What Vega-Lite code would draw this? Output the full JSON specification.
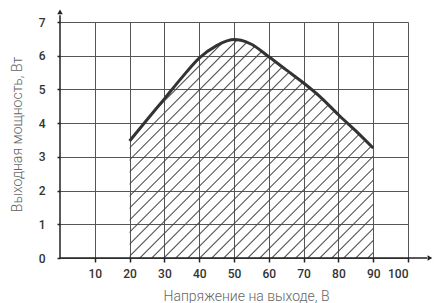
{
  "$schema": "https://vega.github.io/schema/vega-lite/v6.json",
  "width": 348,
  "height": 236,
  "autosize": {"type": "none"},
  "padding": {"left": 60, "top": 22, "right": 26, "bottom": 45},
  "background": "white",
  "config": {"view": {"stroke": null}},
  "datasets": {
    "curve": [
      {"x": 20, "y": 3.47},
      {"x": 25, "y": 4.1},
      {"x": 30, "y": 4.72},
      {"x": 35, "y": 5.35},
      {"x": 40, "y": 5.93},
      {"x": 45, "y": 6.3},
      {"x": 48, "y": 6.44},
      {"x": 50, "y": 6.48},
      {"x": 52, "y": 6.46},
      {"x": 55, "y": 6.34},
      {"x": 60, "y": 5.97},
      {"x": 65, "y": 5.58},
      {"x": 70, "y": 5.19},
      {"x": 75, "y": 4.76},
      {"x": 80, "y": 4.25},
      {"x": 85, "y": 3.77},
      {"x": 90, "y": 3.26}
    ],
    "axislines": [
      {"x": 0, "y": 0, "x2": 105.5, "y2": 0},
      {"x": 0, "y": 0, "x2": 0, "y2": 7.2}
    ],
    "xhead": [{"x": 106.3, "y": 0}],
    "yhead": [{"x": 0, "y": 7.3}]
  },
  "encoding": {
    "x": {
      "field": "x",
      "type": "quantitative",
      "scale": {"domain": [0, 100], "nice": false, "zero": false},
      "axis": {
        "title": "Напряжение на выходе, В",
        "values": [10, 20, 30, 40, 50, 60, 70, 80, 90, 100],
        "grid": true,
        "gridColor": "#555",
        "gridWidth": 1,
        "domain": false,
        "ticks": true,
        "tickColor": "#222",
        "tickSize": 4,
        "tickWidth": 1.5,
        "labelFont": "Roboto",
        "labelFontWeight": 500,
        "labelFontSize": 12,
        "labelColor": "#333",
        "labelPadding": 6,
        "titleFont": "Roboto",
        "titleFontWeight": 300,
        "titleFontSize": 14,
        "titleColor": "#666",
        "titleX": 186,
        "titleY": 42,
        "titleAlign": "center",
        "titleBaseline": "alphabetic"
      }
    },
    "y": {
      "field": "y",
      "type": "quantitative",
      "scale": {"domain": [0, 7], "nice": false, "zero": false},
      "axis": {
        "title": "Выходная мощность, Вт",
        "values": [0, 1, 2, 3, 4, 5, 6, 7],
        "grid": true,
        "gridColor": "#555",
        "gridWidth": 1,
        "domain": false,
        "ticks": true,
        "tickColor": "#222",
        "tickSize": 3,
        "tickWidth": 1.5,
        "labelFont": "Roboto",
        "labelFontWeight": 500,
        "labelFontSize": 12,
        "labelColor": "#333",
        "labelPadding": 12,
        "titleFont": "Roboto",
        "titleFontWeight": 300,
        "titleFontSize": 14,
        "titleColor": "#666",
        "titleX": -43,
        "titleY": 112,
        "titleAngle": 270,
        "titleAlign": "center",
        "titleBaseline": "middle"
      }
    }
  },
  "layer": [
    {
      "data": {"name": "curve"},
      "mark": {
        "type": "area",
        "interpolate": "monotone",
        "fill": {
          "gradient": "linear",
          "x1": 0, "y1": 0, "x2": 1.095, "y2": 0.979,
          "stops": [
            {"offset": 0, "color": "rgba(68,68,68,0)"},
            {"offset": 0.022, "color": "rgba(68,68,68,0)"}, {"offset": 0.025, "color": "#444"}, {"offset": 0.028, "color": "rgba(68,68,68,0)"},
            {"offset": 0.047, "color": "rgba(68,68,68,0)"}, {"offset": 0.05, "color": "#444"}, {"offset": 0.053, "color": "rgba(68,68,68,0)"},
            {"offset": 0.072, "color": "rgba(68,68,68,0)"}, {"offset": 0.075, "color": "#444"}, {"offset": 0.078, "color": "rgba(68,68,68,0)"},
            {"offset": 0.097, "color": "rgba(68,68,68,0)"}, {"offset": 0.1, "color": "#444"}, {"offset": 0.103, "color": "rgba(68,68,68,0)"},
            {"offset": 0.122, "color": "rgba(68,68,68,0)"}, {"offset": 0.125, "color": "#444"}, {"offset": 0.128, "color": "rgba(68,68,68,0)"},
            {"offset": 0.147, "color": "rgba(68,68,68,0)"}, {"offset": 0.15, "color": "#444"}, {"offset": 0.153, "color": "rgba(68,68,68,0)"},
            {"offset": 0.172, "color": "rgba(68,68,68,0)"}, {"offset": 0.175, "color": "#444"}, {"offset": 0.178, "color": "rgba(68,68,68,0)"},
            {"offset": 0.197, "color": "rgba(68,68,68,0)"}, {"offset": 0.2, "color": "#444"}, {"offset": 0.203, "color": "rgba(68,68,68,0)"},
            {"offset": 0.222, "color": "rgba(68,68,68,0)"}, {"offset": 0.225, "color": "#444"}, {"offset": 0.228, "color": "rgba(68,68,68,0)"},
            {"offset": 0.247, "color": "rgba(68,68,68,0)"}, {"offset": 0.25, "color": "#444"}, {"offset": 0.253, "color": "rgba(68,68,68,0)"},
            {"offset": 0.272, "color": "rgba(68,68,68,0)"}, {"offset": 0.275, "color": "#444"}, {"offset": 0.278, "color": "rgba(68,68,68,0)"},
            {"offset": 0.297, "color": "rgba(68,68,68,0)"}, {"offset": 0.3, "color": "#444"}, {"offset": 0.303, "color": "rgba(68,68,68,0)"},
            {"offset": 0.322, "color": "rgba(68,68,68,0)"}, {"offset": 0.325, "color": "#444"}, {"offset": 0.328, "color": "rgba(68,68,68,0)"},
            {"offset": 0.347, "color": "rgba(68,68,68,0)"}, {"offset": 0.35, "color": "#444"}, {"offset": 0.353, "color": "rgba(68,68,68,0)"},
            {"offset": 0.372, "color": "rgba(68,68,68,0)"}, {"offset": 0.375, "color": "#444"}, {"offset": 0.378, "color": "rgba(68,68,68,0)"},
            {"offset": 0.397, "color": "rgba(68,68,68,0)"}, {"offset": 0.4, "color": "#444"}, {"offset": 0.403, "color": "rgba(68,68,68,0)"},
            {"offset": 0.422, "color": "rgba(68,68,68,0)"}, {"offset": 0.425, "color": "#444"}, {"offset": 0.428, "color": "rgba(68,68,68,0)"},
            {"offset": 0.447, "color": "rgba(68,68,68,0)"}, {"offset": 0.45, "color": "#444"}, {"offset": 0.453, "color": "rgba(68,68,68,0)"},
            {"offset": 0.472, "color": "rgba(68,68,68,0)"}, {"offset": 0.475, "color": "#444"}, {"offset": 0.478, "color": "rgba(68,68,68,0)"},
            {"offset": 0.497, "color": "rgba(68,68,68,0)"}, {"offset": 0.5, "color": "#444"}, {"offset": 0.503, "color": "rgba(68,68,68,0)"},
            {"offset": 0.522, "color": "rgba(68,68,68,0)"}, {"offset": 0.525, "color": "#444"}, {"offset": 0.528, "color": "rgba(68,68,68,0)"},
            {"offset": 0.547, "color": "rgba(68,68,68,0)"}, {"offset": 0.55, "color": "#444"}, {"offset": 0.553, "color": "rgba(68,68,68,0)"},
            {"offset": 0.572, "color": "rgba(68,68,68,0)"}, {"offset": 0.575, "color": "#444"}, {"offset": 0.578, "color": "rgba(68,68,68,0)"},
            {"offset": 0.597, "color": "rgba(68,68,68,0)"}, {"offset": 0.6, "color": "#444"}, {"offset": 0.603, "color": "rgba(68,68,68,0)"},
            {"offset": 0.622, "color": "rgba(68,68,68,0)"}, {"offset": 0.625, "color": "#444"}, {"offset": 0.628, "color": "rgba(68,68,68,0)"},
            {"offset": 0.647, "color": "rgba(68,68,68,0)"}, {"offset": 0.65, "color": "#444"}, {"offset": 0.653, "color": "rgba(68,68,68,0)"},
            {"offset": 0.672, "color": "rgba(68,68,68,0)"}, {"offset": 0.675, "color": "#444"}, {"offset": 0.678, "color": "rgba(68,68,68,0)"},
            {"offset": 0.697, "color": "rgba(68,68,68,0)"}, {"offset": 0.7, "color": "#444"}, {"offset": 0.703, "color": "rgba(68,68,68,0)"},
            {"offset": 0.722, "color": "rgba(68,68,68,0)"}, {"offset": 0.725, "color": "#444"}, {"offset": 0.728, "color": "rgba(68,68,68,0)"},
            {"offset": 0.747, "color": "rgba(68,68,68,0)"}, {"offset": 0.75, "color": "#444"}, {"offset": 0.753, "color": "rgba(68,68,68,0)"},
            {"offset": 0.772, "color": "rgba(68,68,68,0)"}, {"offset": 0.775, "color": "#444"}, {"offset": 0.778, "color": "rgba(68,68,68,0)"},
            {"offset": 0.797, "color": "rgba(68,68,68,0)"}, {"offset": 0.8, "color": "#444"}, {"offset": 0.803, "color": "rgba(68,68,68,0)"},
            {"offset": 0.822, "color": "rgba(68,68,68,0)"}, {"offset": 0.825, "color": "#444"}, {"offset": 0.828, "color": "rgba(68,68,68,0)"},
            {"offset": 0.847, "color": "rgba(68,68,68,0)"}, {"offset": 0.85, "color": "#444"}, {"offset": 0.853, "color": "rgba(68,68,68,0)"},
            {"offset": 0.872, "color": "rgba(68,68,68,0)"}, {"offset": 0.875, "color": "#444"}, {"offset": 0.878, "color": "rgba(68,68,68,0)"},
            {"offset": 0.897, "color": "rgba(68,68,68,0)"}, {"offset": 0.9, "color": "#444"}, {"offset": 0.903, "color": "rgba(68,68,68,0)"},
            {"offset": 0.922, "color": "rgba(68,68,68,0)"}, {"offset": 0.925, "color": "#444"}, {"offset": 0.928, "color": "rgba(68,68,68,0)"},
            {"offset": 0.947, "color": "rgba(68,68,68,0)"}, {"offset": 0.95, "color": "#444"}, {"offset": 0.953, "color": "rgba(68,68,68,0)"},
            {"offset": 0.972, "color": "rgba(68,68,68,0)"}, {"offset": 0.975, "color": "#444"}, {"offset": 0.978, "color": "rgba(68,68,68,0)"},
            {"offset": 1, "color": "rgba(68,68,68,0)"}
          ]
        }
      }
    },
    {
      "data": {"name": "curve"},
      "mark": {"type": "line", "interpolate": "monotone", "color": "#333", "strokeWidth": 3}
    },
    {
      "data": {"name": "axislines"},
      "mark": {"type": "rule", "color": "#222", "strokeWidth": 1.5},
      "encoding": {
        "x2": {"field": "x2"},
        "y2": {"field": "y2"}
      }
    },
    {
      "data": {"name": "xhead"},
      "mark": {"type": "point", "shape": "triangle-right", "filled": true, "color": "#222", "size": 30, "opacity": 1}
    },
    {
      "data": {"name": "yhead"},
      "mark": {"type": "point", "shape": "triangle-up", "filled": true, "color": "#222", "size": 30, "opacity": 1}
    }
  ]
}
